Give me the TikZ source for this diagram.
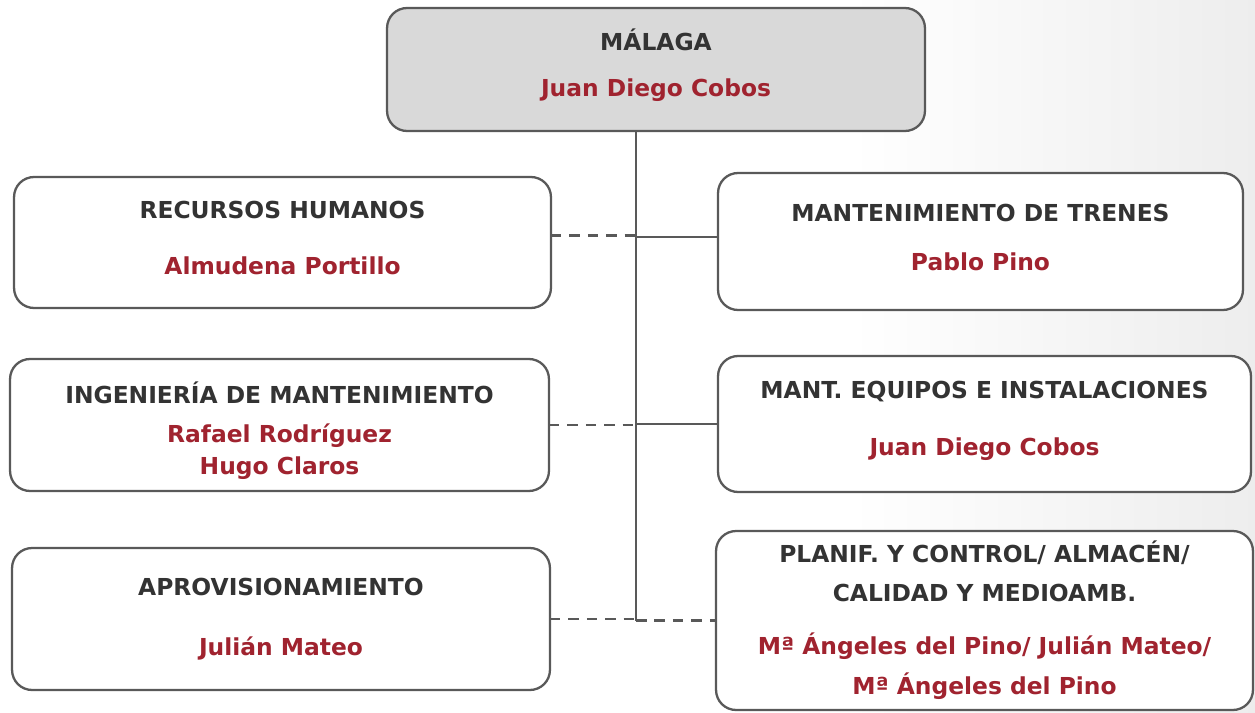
\documentclass[tikz,border=0pt]{standalone}
\usepackage{fontspec}
\setmainfont{DejaVu Sans}
\usepackage{tikz}
\usetikzlibrary{calc}
\definecolor{boxline}{RGB}{89,89,89}
\definecolor{titlegray}{RGB}{51,51,51}
\definecolor{namered}{RGB}{160,35,47}
\definecolor{topfill}{RGB}{217,217,217}

\begin{document}
\begin{tikzpicture}[x=0.02cm, y=-0.02cm,
    unit/.style={draw=boxline, line width=1.3pt, rounded corners=0.4cm, fill=white, align=center, inner sep=0pt, outer sep=0pt, font=\fontsize{13.3}{18}\selectfont\bfseries},
    conn/.style={draw=boxline, line width=1.6pt},
    dashconn/.style={conn, dash pattern=on 6pt off 4.5pt}]
    \useasboundingbox (0,0) rectangle (1255,713);
    \fill[white] (0,0) rectangle (1255,713);
    \fill[left color=white, right color=gray!14] (850,0) rectangle (1255,713);

    \node (top) [unit, fill=topfill, minimum width=10.76cm, minimum height=2.46cm] at (656,69.5) {\textcolor{titlegray}{MÁLAGA}\\[8pt]\textcolor{namered}{Juan Diego Cobos}\rule[-7.7pt]{0pt}{0pt}};
    \node (rrhh) [unit, minimum width=10.74cm, minimum height=2.62cm] at (282.5,242.5) {\textcolor{titlegray}{RECURSOS HUMANOS}\\[14pt]\textcolor{namered}{Almudena Portillo}\rule[-5.7pt]{0pt}{0pt}};
    \node (trenes) [unit, minimum width=10.5cm, minimum height=2.74cm] at (980.5,241.5) {\textcolor{titlegray}{MANTENIMIENTO DE TRENES}\\[9.5pt]\textcolor{namered}{Pablo Pino}\rule[-4.6pt]{0pt}{0pt}};
    \node (ingen) [unit, minimum width=10.78cm, minimum height=2.64cm] at (279.5,425) {\rule{0pt}{19pt}\textcolor{titlegray}{INGENIERÍA DE MANTENIMIENTO}\\[4pt]\textcolor{namered}{Rafael Rodríguez}\\[0.5pt]\textcolor{namered}{Hugo Claros}};
    \node (equipos) [unit, minimum width=10.66cm, minimum height=2.72cm] at (984.5,424) {\textcolor{titlegray}{MANT. EQUIPOS E INSTALACIONES}\\[14pt]\textcolor{namered}{Juan Diego Cobos}\rule[-6.5pt]{0pt}{0pt}};
    \node (aprov) [unit, minimum width=10.76cm, minimum height=2.84cm] at (281,619) {\textcolor{titlegray}{APROVISIONAMIENTO}\\[16pt]\textcolor{namered}{Julián Mateo}};
    \node (planif) [unit, minimum width=10.74cm, minimum height=3.58cm] at (984.5,620.5) {\textcolor{titlegray}{PLANIF. Y CONTROL/ ALMACÉN/}\\[4pt]\textcolor{titlegray}{CALIDAD Y MEDIOAMB.}\\[12pt]\textcolor{namered}{Mª Ángeles del Pino/ Julián Mateo/}\\[5pt]\textcolor{namered}{Mª Ángeles del Pino}};

    \coordinate (spine) at (636,621);
    \draw [conn] (spine |- top.south) -- (spine);
    \draw [dashconn] ([yshift=0.14cm]rrhh.east) -- ([yshift=0.14cm]rrhh.east -| spine);
    \draw [conn] ([yshift=0.09cm]trenes.west -| spine) -- ([yshift=0.09cm]trenes.west);
    \draw [dashconn] (ingen.east) -- (ingen.east -| spine);
    \draw [conn] (equipos.west -| spine) -- (equipos.west);
    \draw [dashconn] (aprov.east) -- (aprov.east -| spine);
    \draw [dashconn] (planif.west -| spine) -- (planif.west);
\end{tikzpicture}
\end{document}
